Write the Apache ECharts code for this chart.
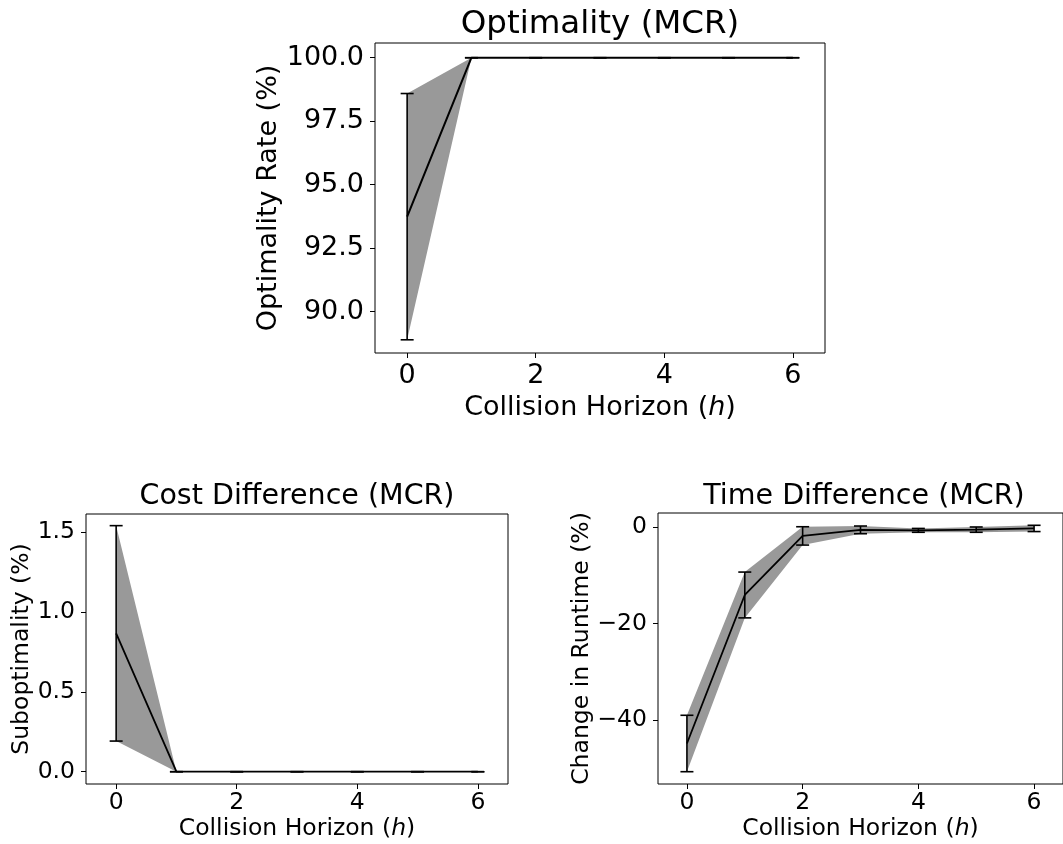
<!DOCTYPE html>
<html>
<head>
<meta charset="utf-8">
<script src="https://cdn.jsdelivr.net/npm/echarts@6/dist/echarts.min.js"></script>
<style>
  html, body { margin: 0; padding: 0; background: #fff; }
  #chart { width: 1063px; height: 844px; }
</style>
</head>
<body>
<div id="chart"></div>
<script>
// collision horizon h
const horizons = [0, 1, 2, 3, 4, 5, 6]
const xTicks = [0, 2, 4, 6]

// Optimality (MCR)
const optMean = [93.74, 100, 100, 100, 100, 100, 100]
const optErr = [4.85, 0, 0, 0, 0, 0, 0]
const optTicks = [90, 92.5, 95, 97.5, 100]

// Cost Difference (MCR)
const costMean = [0.867, 0, 0, 0, 0, 0, 0]
const costErr = [0.675, 0, 0, 0, 0, 0, 0]
const costTicks = [0, 0.5, 1, 1.5]

// Time Difference (MCR)
const timeMean = [-44.9, -14.1, -1.85, -0.6, -0.7, -0.55, -0.3]
const timeErr = [5.85, 4.75, 1.9, 0.8, 0.4, 0.55, 0.65]
const timeTicks = [-40, -20, 0]

const FONT = '"DejaVu Sans", sans-serif'
const xName = 'Collision Horizon ({i|h})'

function bandRender (mean, err) {
  return function (params, api) {
    if (params.dataIndex !== 0) return
    const up = horizons.map((x, i) => api.coord([x, mean[i] + err[i]]))
    const lo = horizons.map((x, i) => api.coord([x, mean[i] - err[i]])).reverse()
    return {
      type: 'polygon',
      shape: { points: up.concat(lo) },
      style: { fill: '#999999' }
    }
  }
}

function errRender (params, api) {
  const a = api.coord([api.value(0), api.value(1)])
  const b = api.coord([api.value(0), api.value(2)])
  const cap = 6.5
  const st = { stroke: '#000', lineWidth: 1.6 }
  return {
    type: 'group',
    children: [
      { type: 'line', shape: { x1: a[0], y1: a[1], x2: b[0], y2: b[1] }, style: st },
      { type: 'line', shape: { x1: a[0] - cap, y1: a[1], x2: a[0] + cap, y2: a[1] }, style: st },
      { type: 'line', shape: { x1: b[0] - cap, y1: b[1], x2: b[0] + cap, y2: b[1] }, style: st }
    ]
  }
}

function xAxisOf (idx, fs, margin, gap) {
  return {
    type: 'value',
    gridIndex: idx,
    min: -0.5,
    max: 6.5,
    axisLine: { show: false, onZero: false },
    axisTick: { show: true, length: 5, customValues: xTicks, lineStyle: { color: '#000', width: 1 } },
    axisLabel: { customValues: xTicks, fontSize: fs, fontFamily: FONT, color: '#000', margin: margin },
    splitLine: { show: false },
    name: xName,
    nameLocation: 'middle',
    nameGap: gap,
    nameTextStyle: {
      fontSize: fs, fontFamily: FONT, color: '#000',
      rich: { i: { fontSize: fs, fontFamily: FONT, fontStyle: 'italic', color: '#000' } }
    }
  }
}

function yAxisOf (idx, min, max, ticks, fmt, fs, name, gap) {
  return {
    type: 'value',
    gridIndex: idx,
    min: min,
    max: max,
    axisLine: { show: false, onZero: false },
    axisTick: { show: true, length: 5, customValues: ticks, lineStyle: { color: '#000', width: 1 } },
    axisLabel: { customValues: ticks, formatter: fmt, fontSize: fs, fontFamily: FONT, color: '#000', margin: 11 },
    splitLine: { show: false },
    name: name,
    nameLocation: 'middle',
    nameGap: gap,
    nameTextStyle: { fontSize: fs, fontFamily: FONT, color: '#000' }
  }
}

function seriesOf (idx, mean, err, lw) {
  return [
    {
      type: 'custom',
      xAxisIndex: idx,
      yAxisIndex: idx,
      renderItem: bandRender(mean, err),
      data: horizons.map((x, i) => [x, mean[i]]),
      z: 1,
      silent: true
    },
    {
      type: 'line',
      xAxisIndex: idx,
      yAxisIndex: idx,
      data: horizons.map((x, i) => [x, mean[i]]),
      showSymbol: false,
      lineStyle: { color: '#000', width: lw },
      z: 3
    },
    {
      type: 'custom',
      xAxisIndex: idx,
      yAxisIndex: idx,
      renderItem: errRender,
      data: horizons.map((x, i) => [x, mean[i] - err[i], mean[i] + err[i]]),
      encode: { x: 0, y: [1, 2] },
      z: 4,
      silent: true
    }
  ]
}

const fixed1 = v => v.toFixed(1)
const minusFmt = v => String(v).replace('-', '\u2212')

const chart = echarts.init(document.getElementById('chart'))
chart.setOption({
  animation: false,
  backgroundColor: '#fff',
  grid: [
    { left: 375, top: 43, width: 450, height: 310, show: true, borderColor: '#000', borderWidth: 1 },
    { left: 86, top: 514, width: 422, height: 270, show: true, borderColor: '#000', borderWidth: 1 },
    { left: 658, top: 513, width: 412, height: 271, show: true, borderColor: '#000', borderWidth: 1 }
  ],
  xAxis: [
    xAxisOf(0, 27, 9, 41),
    xAxisOf(1, 23.5, 7, 33),
    xAxisOf(2, 23.5, 7, 33)
  ],
  yAxis: [
    yAxisOf(0, 88.37, 100.58, optTicks, fixed1, 27, 'Optimality Rate (%)', 92),
    yAxisOf(1, -0.077, 1.615, costTicks, fixed1, 23.5, 'Suboptimality (%)', 52),
    yAxisOf(2, -53.3, 2.9, timeTicks, minusFmt, 23.5, 'Change in Runtime (%)', 62)
  ],
  graphic: [
    { type: 'text', x: 600, y: 25, style: { text: 'Optimality (MCR)', font: '32.5px ' + FONT, fill: '#000', align: 'center', verticalAlign: 'middle' } },
    { type: 'text', x: 297, y: 497, style: { text: 'Cost Difference (MCR)', font: '28.5px ' + FONT, fill: '#000', align: 'center', verticalAlign: 'middle' } },
    { type: 'text', x: 864, y: 497, style: { text: 'Time Difference (MCR)', font: '28.5px ' + FONT, fill: '#000', align: 'center', verticalAlign: 'middle' } }
  ],
  series: [].concat(
    seriesOf(0, optMean, optErr, 2),
    seriesOf(1, costMean, costErr, 1.8),
    seriesOf(2, timeMean, timeErr, 1.8)
  )
})
</script>
</body>
</html>
